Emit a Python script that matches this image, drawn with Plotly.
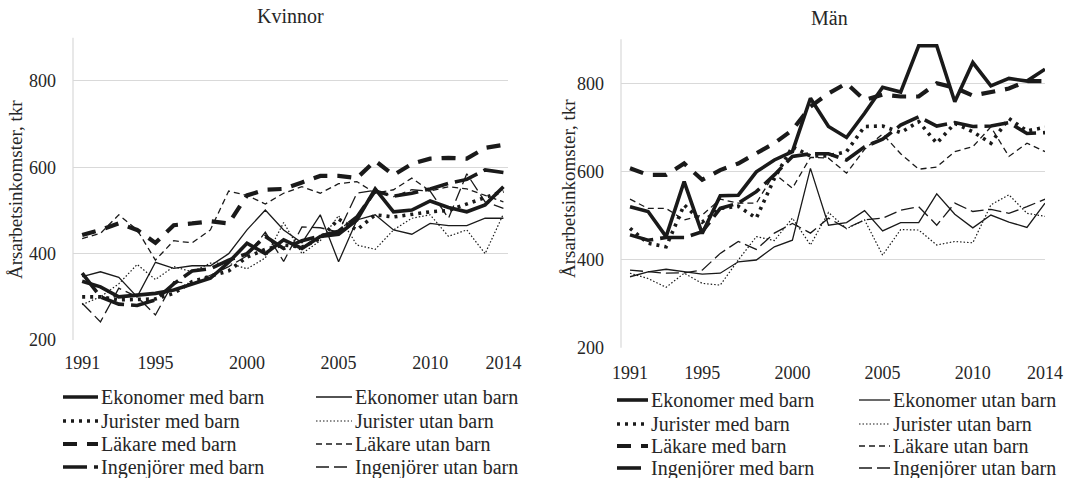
import plotly.graph_objects as go

years = list(range(1991, 2015))
x_ticks = [1991, 1995, 2000, 2005, 2010, 2014]
y_ticks = [200, 400, 600, 800]

series_names = [
    "Ekonomer med barn", "Ekonomer utan barn",
    "Jurister med barn", "Jurister utan barn",
    "Läkare med barn", "Läkare utan barn",
    "Ingenjörer med barn", "Ingenjörer utan barn",
]

# Kvinnor (women)
k_ekonomer_med = [336, 323, 300, 304, 308, 316, 330, 343, 380, 424, 400, 432, 412, 440, 445, 478, 550, 497, 501, 522, 507, 497, 513, 555]
k_ekonomer_utan = [347, 358, 345, 300, 380, 366, 372, 372, 400, 455, 501, 455, 425, 490, 381, 478, 490, 455, 445, 470, 465, 465, 482, 482]
k_jurister_med = [300, 300, 293, 295, 295, 308, 335, 348, 360, 392, 410, 420, 415, 435, 480, 455, 490, 485, 492, 497, 500, 515, 530, 545]
k_jurister_utan = [282, 300, 330, 375, 340, 370, 358, 378, 378, 365, 390, 472, 400, 430, 488, 420, 410, 455, 482, 490, 440, 455, 400, 492]
k_lakare_med = [443, 455, 470, 455, 425, 466, 470, 475, 470, 535, 548, 550, 565, 580, 580, 575, 615, 582, 608, 620, 622, 620, 645, 652]
k_lakare_utan = [435, 447, 490, 455, 385, 430, 425, 455, 545, 535, 515, 540, 555, 540, 562, 567, 540, 548, 575, 545, 555, 550, 535, 520]
k_ingenjorer_med = [355, 300, 283, 280, 293, 330, 360, 365, 385, 400, 440, 412, 430, 440, 452, 485, 545, 533, 540, 550, 563, 572, 594, 588]
k_ingenjorer_utan = [285, 242, 320, 300, 258, 335, 330, 350, 370, 395, 450, 382, 462, 460, 450, 540, 547, 532, 548, 545, 482, 585, 520, 505]

# Män (men)
m_ekonomer_med = [520, 509, 452, 577, 459, 545, 546, 599, 626, 645, 766, 702, 677, 732, 791, 780, 885, 885, 758, 847, 794, 811, 805, 832]
m_ekonomer_utan = [361, 372, 378, 372, 367, 369, 395, 399, 429, 444, 607, 478, 484, 511, 465, 484, 484, 549, 503, 472, 501, 485, 473, 528]
m_jurister_med = [471, 437, 429, 524, 485, 516, 521, 494, 584, 656, 635, 635, 645, 702, 703, 688, 713, 664, 709, 690, 664, 720, 692, 700]
m_jurister_utan = [369, 357, 337, 369, 346, 342, 399, 452, 443, 494, 433, 507, 470, 490, 410, 468, 467, 433, 441, 438, 524, 547, 505, 498]
m_lakare_med = [607, 592, 592, 618, 581, 603, 618, 641, 664, 694, 747, 777, 800, 762, 774, 770, 770, 800, 790, 772, 780, 788, 805, 805]
m_lakare_utan = [537, 516, 516, 490, 501, 537, 528, 528, 595, 562, 632, 630, 596, 650, 685, 640, 605, 610, 645, 656, 701, 634, 664, 645]
m_ingenjorer_med = [456, 444, 450, 450, 463, 516, 528, 554, 592, 634, 640, 640, 626, 656, 673, 705, 724, 703, 711, 702, 703, 711, 686, 688]
m_ingenjorer_utan = [376, 372, 369, 370, 376, 414, 441, 423, 460, 482, 460, 494, 471, 490, 494, 512, 520, 478, 528, 509, 514, 505, 520, 537]

kvinnor = [k_ekonomer_med, k_ekonomer_utan, k_jurister_med, k_jurister_utan,
           k_lakare_med, k_lakare_utan, k_ingenjorer_med, k_ingenjorer_utan]
man = [m_ekonomer_med, m_ekonomer_utan, m_jurister_med, m_jurister_utan,
       m_lakare_med, m_lakare_utan, m_ingenjorer_med, m_ingenjorer_utan]

LINE = "#1a1a1a"
styles = [
    dict(width=3.6, dash="solid"),
    dict(width=1.3, dash="solid"),
    dict(width=3.6, dash="3px,5px"),
    dict(width=1.2, dash="1.5px,2px"),
    dict(width=4.2, dash="14px,10px"),
    dict(width=1.3, dash="6px,4px"),
    dict(width=3.6, dash="24px,7px"),
    dict(width=1.3, dash="13px,5px"),
]

FONT = "Liberation Serif"
TXT = "#262626"
GRID = "#d9d9d9"

fig = go.Figure()
for name, vals, st in zip(series_names, kvinnor, styles):
    fig.add_trace(go.Scatter(x=years, y=vals, mode="lines", name=name, showlegend=False,
                             line=dict(color=LINE, width=st["width"], dash=st["dash"]),
                             xaxis="x", yaxis="y"))
for name, vals, st in zip(series_names, man, styles):
    fig.add_trace(go.Scatter(x=years, y=vals, mode="lines", name=name, showlegend=False,
                             line=dict(color=LINE, width=st["width"], dash=st["dash"]),
                             xaxis="x2", yaxis="y2"))

W, H = 1066, 478
def px_x(p): return p / W
def px_y(p): return (H - p) / H

axis_common = dict(showline=False, zeroline=False, ticks="", automargin=False,
                   tickfont=dict(family=FONT, size=18, color=TXT))
fig.update_layout(
    template="none",
    width=W, height=H,
    margin=dict(l=0, r=0, t=0, b=0, pad=0),
    paper_bgcolor="white", plot_bgcolor="white",
    font=dict(family=FONT, color=TXT),
    showlegend=False,
    xaxis=dict(domain=[px_x(73), px_x(508)], range=[1990.5, 2014.25], tickvals=x_ticks,
               showgrid=False, anchor="y", ticklabelstandoff=10, **axis_common),
    yaxis=dict(domain=[px_y(340), px_y(37.8)], range=[200, 900], tickvals=y_ticks,
               showgrid=True, gridcolor=GRID, gridwidth=1.2, anchor="x",
               ticklabelstandoff=16, **axis_common),
    xaxis2=dict(domain=[px_x(621), px_x(1045)], range=[1990.5, 2014.0], tickvals=x_ticks,
                showgrid=False, anchor="y2", ticklabelstandoff=12, **axis_common),
    yaxis2=dict(domain=[px_y(347.7), px_y(39.2)], range=[200, 900], tickvals=y_ticks,
                showgrid=True, gridcolor=GRID, gridwidth=1.2, anchor="x2",
                ticklabelstandoff=16, **axis_common),
)

# vertical axis lines (left edges of plots)
for xr, yr in [("x domain", "y domain"), ("x2 domain", "y2 domain")]:
    fig.add_shape(type="line", xref=xr, yref=yr, x0=0, x1=0, y0=0, y1=1,
                  line=dict(color=GRID, width=1.2))

# panel titles
for text, xp, yp in [("Kvinnor", 290, 16), ("Män", 829, 18)]:
    fig.add_annotation(text=text, x=px_x(xp), y=px_y(yp), xref="paper", yref="paper",
                       showarrow=False, xanchor="center", yanchor="middle",
                       font=dict(family=FONT, size=20, color=TXT))
# y-axis titles
for xpos, ypos in [(15, 190), (568, 189)]:
    fig.add_annotation(text="Årsarbetsinkomster, tkr", x=px_x(xpos), y=px_y(ypos),
                       xref="paper", yref="paper", showarrow=False, textangle=-90,
                       xanchor="center", yanchor="middle",
                       font=dict(family=FONT, size=19, color=TXT))

# legends (two columns, four rows, below each panel)
legend_boxes = [
    dict(cols=[(63, 98), (316, 352)], rows=[397, 421, 444, 467]),
    dict(cols=[(617, 648), (859, 890)], rows=[400, 424, 446, 468]),
]
for box in legend_boxes:
    for i, (name, st) in enumerate(zip(series_names, styles)):
        r, c = divmod(i, 2)
        x0, x1 = box["cols"][c]
        yrow = box["rows"][r]
        fig.add_shape(type="line", xref="paper", yref="paper",
                      x0=px_x(x0), x1=px_x(x1), y0=px_y(yrow), y1=px_y(yrow),
                      line=dict(color=LINE, width=st["width"], dash=st["dash"]))
        fig.add_annotation(text=name, x=px_x(x1 + 1), y=px_y(yrow), xref="paper", yref="paper",
                           showarrow=False, xanchor="left", yanchor="middle",
                           font=dict(family=FONT, size=20, color=TXT))

fig.write_html(
    "out.html",
    config={"displayModeBar": False},
    post_script="document.body.style.margin='0';document.body.style.overflow='hidden';",
)
